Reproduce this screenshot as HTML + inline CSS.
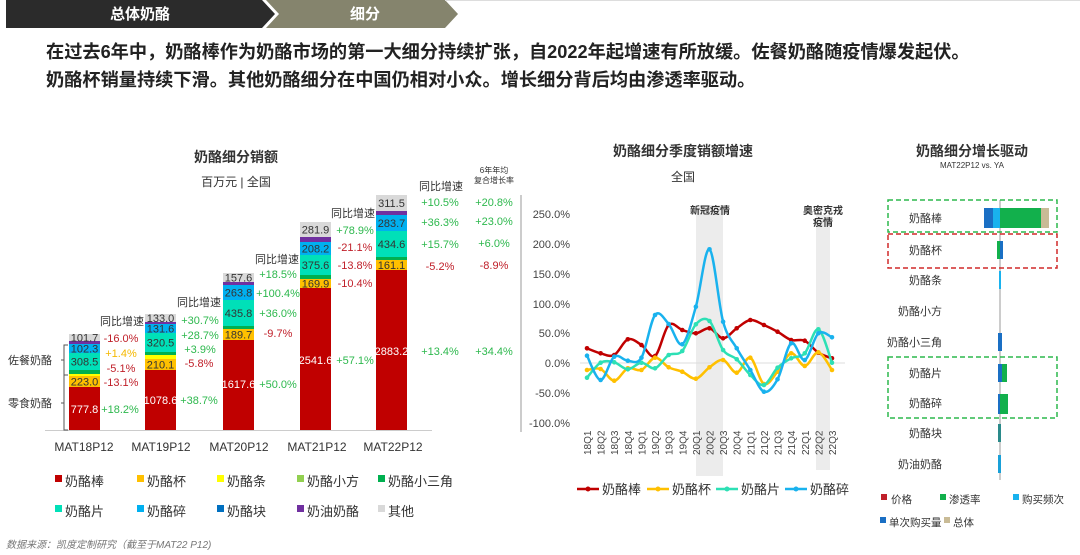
<!DOCTYPE html>
<html><head><meta charset="utf-8">
<style>
html,body{margin:0;padding:0;background:#fff;}
svg{display:block;font-family:"Liberation Sans","Noto Sans CJK SC",sans-serif;}
.t{font-size:11px;fill:#333}
.g{fill:#2db84d;font-size:11px}
.r{fill:#c0202a;font-size:11px}
.o{fill:#f5b800;font-size:11px}
.bl{font-size:11px;text-anchor:middle}
</style></head><body>
<svg id="s" width="1080" height="555" viewBox="0 0 1080 555">
<polygon points="6,0 262,0 275,14 262,28 6,28" fill="#2b2b2b"/>
<polygon points="266,0 445,0 458,14 445,28 266,28 279,14" fill="#85846d"/>
<line x1="445" y1="0.5" x2="1080" y2="0.5" stroke="#ddd"/>
<text x="140" y="19" fill="#fff" font-size="15" font-weight="bold" text-anchor="middle">总体奶酪</text>
<text x="365" y="19" fill="#fff" font-size="15" font-weight="bold" text-anchor="middle">细分</text>
<text x="46" y="58" font-size="18.2" font-weight="bold" fill="#222">在过去6年中，奶酪棒作为奶酪市场的第一大细分持续扩张，自2022年起增速有所放缓。佐餐奶酪随疫情爆发起伏。</text>
<text x="46" y="86" font-size="18.2" font-weight="bold" fill="#222">奶酪杯销量持续下滑。其他奶酪细分在中国仍相对小众。增长细分背后均由渗透率驱动。</text>

<text x="236" y="162" font-size="14" font-weight="bold" fill="#333" text-anchor="middle">奶酪细分销额</text>
<text x="236" y="186" font-size="12" fill="#333" text-anchor="middle">百万元 | 全国</text>
<g id="bars"></g>
<line x1="45" y1="430.5" x2="432" y2="430.5" stroke="#ccc"/>
<path d="M68,345 H64 V430 H68 M64,360 H61 M64,403 H61 M64,375 H68" stroke="#555" fill="none"/>
<text x="30" y="364" class="t" text-anchor="middle">佐餐奶酪</text>
<text x="30" y="407" class="t" text-anchor="middle">零食奶酪</text>
<g font-size="12" fill="#333" text-anchor="middle">
<text x="84" y="451">MAT18P12</text><text x="161" y="451">MAT19P12</text><text x="239" y="451">MAT20P12</text><text x="317" y="451">MAT21P12</text><text x="393" y="451">MAT22P12</text></g>
<g text-anchor="middle">
<text x="122" y="325" class="t">同比增速</text>
<text x="121" y="342" class="r">-16.0%</text><text x="121" y="357" class="o">+1.4%</text><text x="121" y="372" class="r">-5.1%</text><text x="121" y="386" class="r">-13.1%</text><text x="120" y="413" class="g">+18.2%</text>
<text x="199" y="306" class="t">同比增速</text>
<text x="200" y="324" class="g">+30.7%</text><text x="200" y="339" class="g">+28.7%</text><text x="200" y="353" class="g">+3.9%</text><text x="199" y="367" class="r">-5.8%</text><text x="199" y="404" class="g">+38.7%</text>
<text x="277" y="263" class="t">同比增速</text>
<text x="278" y="278" class="g">+18.5%</text><text x="278" y="297" class="g">+100.4%</text><text x="278" y="317" class="g">+36.0%</text><text x="278" y="337" class="r">-9.7%</text><text x="278" y="388" class="g">+50.0%</text>
<text x="353" y="217" class="t">同比增速</text>
<text x="355" y="234" class="g">+78.9%</text><text x="355" y="251" class="r">-21.1%</text><text x="355" y="269" class="r">-13.8%</text><text x="355" y="287" class="r">-10.4%</text><text x="355" y="364" class="g">+57.1%</text>
<text x="441" y="190" class="t">同比增速</text>
<text x="440" y="206" class="g">+10.5%</text><text x="440" y="226" class="g">+36.3%</text><text x="440" y="248" class="g">+15.7%</text><text x="440" y="270" class="r">-5.2%</text><text x="440" y="355" class="g">+13.4%</text>
<text x="494" y="173" font-size="8" fill="#333">6年年均</text>
<text x="494" y="183" font-size="8" fill="#333">复合增长率</text>
<text x="494" y="206" class="g">+20.8%</text><text x="494" y="225" class="g">+23.0%</text><text x="494" y="247" class="g">+6.0%</text><text x="494" y="269" class="r">-8.9%</text><text x="494" y="355" class="g">+34.4%</text>
</g>
<g id="leg1" font-size="13" fill="#333"></g>
<line x1="521" y1="195" x2="521" y2="432" stroke="#999"/>
<text x="6" y="548" font-size="10" font-style="italic" fill="#777">数据来源：凯度定制研究（截至于MAT22 P12)</text>

<text x="683" y="156" font-size="14" font-weight="bold" fill="#333" text-anchor="middle">奶酪细分季度销额增速</text>
<text x="683" y="181" font-size="12" fill="#333" text-anchor="middle">全国</text>
<rect x="696" y="205" width="27" height="271" fill="#ececec"/>
<rect x="816" y="215" width="14" height="255" fill="#ececec"/>
<text x="710" y="214" font-size="10" font-weight="bold" fill="#333" text-anchor="middle">新冠疫情</text>
<text x="823" y="214" font-size="10" font-weight="bold" fill="#333" text-anchor="middle">奥密克戎</text>
<text x="823" y="226" font-size="10" font-weight="bold" fill="#333" text-anchor="middle">疫情</text>
<line x1="580" y1="363" x2="845" y2="363" stroke="#ddd"/>
<g font-size="11" fill="#444" text-anchor="end">
<text x="570" y="218">250.0%</text><text x="570" y="248">200.0%</text><text x="570" y="278">150.0%</text><text x="570" y="308">100.0%</text><text x="570" y="337">50.0%</text><text x="570" y="367">0.0%</text><text x="570" y="397">-50.0%</text><text x="570" y="427">-100.0%</text></g>
<g id="xl" font-size="10" fill="#444"></g>
<g id="lines"></g>
<g id="leg2" font-size="13" fill="#333"></g>

<text x="972" y="156" font-size="14" font-weight="bold" fill="#333" text-anchor="middle">奶酪细分增长驱动</text>
<text x="972" y="168" font-size="8" fill="#333" text-anchor="middle">MAT22P12 vs. YA</text>
<line x1="1000" y1="200" x2="1000" y2="480" stroke="#999"/>
<g font-size="11" fill="#333" text-anchor="end">
<text x="942" y="222">奶酪棒</text><text x="942" y="254">奶酪杯</text><text x="942" y="284">奶酪条</text><text x="942" y="315">奶酪小方</text><text x="942" y="346">奶酪小三角</text><text x="942" y="377">奶酪片</text><text x="942" y="407">奶酪碎</text><text x="942" y="437">奶酪块</text><text x="942" y="468">奶油奶酪</text></g>
<rect x="984" y="208" width="9" height="20" fill="#1a6fc4"/><rect x="993" y="208" width="7" height="20" fill="#19b2ee"/>
<rect x="1000" y="208" width="41" height="20" fill="#12b04c"/><rect x="1041" y="208" width="8" height="20" fill="#c9bb96"/>
<rect x="997" y="241" width="3" height="18" fill="#12b04c"/><rect x="1000" y="241" width="3" height="18" fill="#1a6fc4"/>
<rect x="999" y="271" width="2" height="18" fill="#19b2ee"/>
<rect x="998" y="333" width="4" height="18" fill="#1a6fc4"/>
<rect x="998" y="364" width="4" height="18" fill="#1a6fc4"/><rect x="1002" y="364" width="5" height="18" fill="#12b04c"/>
<rect x="998" y="394" width="2" height="20" fill="#1a6fc4"/><rect x="1000" y="394" width="8" height="20" fill="#12b04c"/>
<rect x="998" y="424" width="3" height="18" fill="#2a8a8a"/>
<rect x="998" y="455" width="3" height="18" fill="#19a0d8"/>
<g fill="none" stroke-width="1.5" stroke-dasharray="5,3">
<rect x="888" y="200" width="169" height="32" stroke="#2db84d"/>
<rect x="888" y="234" width="169" height="34" stroke="#d02a2a"/>
<rect x="888" y="357" width="169" height="61" stroke="#2db84d"/></g>
<g font-size="10.5" fill="#333">
<rect x="881" y="494" width="6" height="6" fill="#c0202a"/><text x="891" y="503">价格</text>
<rect x="940" y="494" width="6" height="6" fill="#12b04c"/><text x="949" y="503">渗透率</text>
<rect x="1013" y="494" width="6" height="6" fill="#19b2ee"/><text x="1022" y="503">购买频次</text>
<rect x="880" y="517" width="6" height="6" fill="#1a6fc4"/><text x="889" y="526">单次购买量</text>
<rect x="944" y="517" width="6" height="6" fill="#c9bb96"/><text x="953" y="526">总体</text></g>
</svg>
<script>
var NS="http://www.w3.org/2000/svg";
function el(p,t,a,txt){var e=document.createElementNS(NS,t);for(var k in a)e.setAttribute(k,a[k]);if(txt!=null)e.textContent=txt;document.getElementById(p).appendChild(e);return e;}
var C={red:"#c00000",yel:"#ffc000",ly:"#ffff00",lg:"#92d050",dg:"#00b050",teal:"#00e0b8",blue:"#00b0f0",db:"#0070c0",pur:"#7030a0",gray:"#d9d9d9"};
var bars=[
 [69,[[430,387,"red","777.8"],[387,376,"yel","223.0"],[376,374,"ly"],[374,370,"dg"],[370,353,"teal","308.5"],[353,344,"blue","102.3"],[344,341,"pur"],[341,334,"gray","101.7"]]],
 [145,[[430,370,"red","1078.6"],[370,359,"yel","210.1"],[359,355,"ly"],[355,352,"dg"],[352,333,"teal","320.5"],[333,324,"blue","131.6"],[324,322,"pur"],[322,314,"gray","133.0"]]],
 [223,[[430,340,"red","1617.6"],[340,329,"yel","189.7"],[329,326,"dg"],[326,300,"teal","435.8"],[300,285,"blue","263.8"],[285,282,"pur"],[282,273,"gray","157.6"]]],
 [300,[[430,288,"red","2541.6"],[288,279,"yel","169.9"],[279,275,"dg"],[275,255,"teal","375.6"],[255,242,"blue","208.2"],[242,237,"pur"],[237,222,"gray","281.9"]]],
 [376,[[430,270,"red","2883.2"],[270,260,"yel","161.1"],[260,257,"dg"],[257,231,"teal","434.6"],[231,215,"blue","283.7"],[215,211,"pur"],[211,195,"gray","311.5"]]]];
var lblY={red:[409,400,384,360,351]};
bars.forEach(function(b,bi){var x=b[0];b[1].forEach(function(s){el("bars","rect",{x:x,y:s[1],width:31,height:s[0]-s[1],fill:C[s[2]]});
 if(s[3]){var y=s[2]=="red"?lblY.red[bi]+4:(s[0]+s[1])/2+4;el("bars","text",{x:x+15.5,y:y,"class":"bl",fill:s[2]=="red"?"#fff":"#333"},s[3]);}});});
var L1=[["red","奶酪棒"],["yel","奶酪杯"],["ly","奶酪条"],["lg","奶酪小方"],["dg","奶酪小三角"]],L2=[["teal","奶酪片"],["blue","奶酪碎"],["db","奶酪块"],["pur","奶油奶酪"],["gray","其他"]];
var lx=[55,137,217,297,378];
[[L1,483],[L2,513]].forEach(function(r){r[0].forEach(function(it,i){el("leg1","rect",{x:lx[i],y:r[1]-8,width:7,height:7,fill:C[it[0]]});el("leg1","text",{x:lx[i]+10,y:r[1]+3},it[1]);});});
var q=["18Q1","18Q2","18Q3","18Q4","19Q1","19Q2","19Q3","19Q4","20Q1","20Q2","20Q3","20Q4","21Q1","21Q2","21Q3","21Q4","22Q1","22Q2","22Q3"];
var X=q.map(function(_,i){return 587+i*13.61;});
q.forEach(function(t,i){el("xl","text",{x:0,y:0,transform:"translate("+(X[i]+4)+",455) rotate(-90)"},t);});
var D={
"#c00000":[348.3,353.3,355,339.3,345,356,325,330,333.3,328.3,338.3,328.3,320,325,331.7,340,340.7,352.7,358.3],
"#ffc000":[370,369,380.7,368.3,370,357.7,367.3,371.7,378.7,367.3,360,372.7,357.7,384,371.7,353.3,366,352.3,370],
"#2de0b5":[377.7,362.7,362.3,369.3,362.7,368.3,355,351,324.3,321,350,359.3,375,385,367.7,358.3,353.3,329.3,362.7],
"#19b2ee":[355.7,380,356.7,360.7,357.7,315,324,344.3,306.7,249.3,321.7,348.3,370,391.7,379.3,343.3,360,333.3,337.3]};
for(var c in D){var y=D[c],d="M"+X[0]+","+y[0];for(var i=0;i<y.length-1;i++){var p0=i?i-1:i,p3=i+2<y.length?i+2:i+1;
 d+=" C"+(X[i]+(X[i+1]-X[p0])/6)+","+(y[i]+(y[i+1]-y[p0])/6)+" "+(X[i+1]-(X[p3]-X[i])/6)+","+(y[i+1]-(y[p3]-y[i])/6)+" "+X[i+1]+","+y[i+1];}
 el("lines","path",{d:d,fill:"none",stroke:c,"stroke-width":2.5});
 y.forEach(function(v,i){el("lines","circle",{cx:X[i],cy:v,r:2.3,fill:c});});}
var L=[["#c00000","奶酪棒",577],["#ffc000","奶酪杯",647],["#2de0b5","奶酪片",716],["#19b2ee","奶酪碎",785]];
L.forEach(function(l){el("leg2","line",{x1:l[2],y1:489,x2:l[2]+22,y2:489,stroke:l[0],"stroke-width":2.5});el("leg2","circle",{cx:l[2]+11,cy:489,r:2.5,fill:l[0]});el("leg2","text",{x:l[2]+25,y:494},l[1]);});
</script>
</body></html>
